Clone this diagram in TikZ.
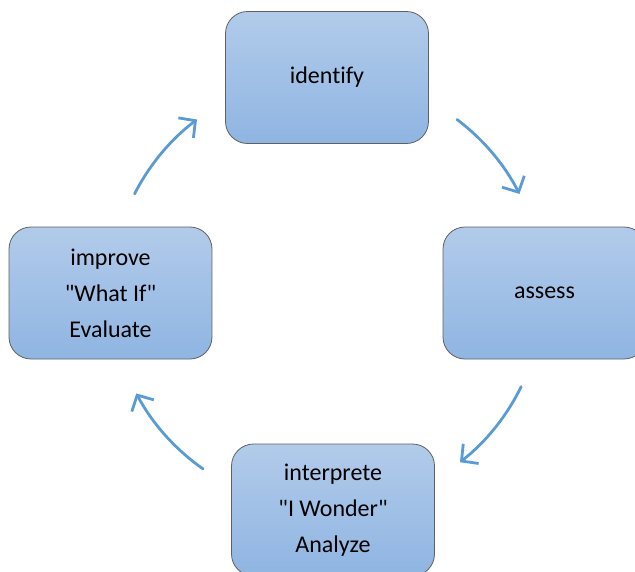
\documentclass[tikz,border=0pt]{standalone}
\usepackage{fontspec}
\setmainfont{Carlito}[Ligatures={NoCommon}]
\usetikzlibrary{arrows.meta,calc}
\definecolor{cyclearrow}{RGB}{91,155,213}
\definecolor{boxtop}{RGB}{178,203,234}
\definecolor{boxbottom}{RGB}{143,181,226}
\definecolor{boxline}{RGB}{96,96,96}
\tikzset{
  stage/.style={draw=boxline, line width=0.8pt, rounded corners=22pt,
    top color=boxtop, bottom color=boxbottom,
    minimum width=203pt, minimum height=132pt, inner sep=0pt,
    align=center, font=\fontsize{24}{36}\selectfont},
  cycle/.style={draw=cyclearrow, line width=2.8pt, line cap=round,
    -{Straight Barb[length=12pt,width=25pt,line width=2.8pt]}}
}
\begin{document}
\begin{tikzpicture}[x=1pt,y=1pt]
      \useasboundingbox (0,0) rectangle (635,-571) ;
      \begin{scope}
      \clip (0,0) rectangle (635,-571) ;
      \node[stage] (identify) at (327,-77.5) {identify} ;
      \node[stage] (assess) at (544.5,-293) {assess} ;
      \node[stage] (interprete) at (333,-510) {interprete\\\textquotedbl I Wonder\textquotedbl\\Analyze} ;
      \node[stage] (improve) at (110.5,-293) {improve\\\textquotedbl What If\textquotedbl\\Evaluate} ;
      \end{scope}
      % arrows on a circle round the middle
      \coordinate (mid) at (327,-292) ;
      \coordinate (a1) at ($(mid)+(53:216)$) ;
      \draw[cycle] (a1) arc[start angle=53, end angle=27, radius=216] ;
      \coordinate (a2) at ($(mid)+(-26:216)$) ;
      \draw[cycle] (a2) arc[start angle=-26, end angle=-52, radius=216] ;
      \coordinate (a3) at ($(mid)+(-125:216)$) ;
      \draw[cycle] (a3) arc[start angle=-125, end angle=-152, radius=216] ;
      \coordinate (a4) at ($(mid)+(153:216)$) ;
      \draw[cycle] (a4) arc[start angle=153, end angle=127, radius=216] ;
    \end{tikzpicture}
\end{document}
